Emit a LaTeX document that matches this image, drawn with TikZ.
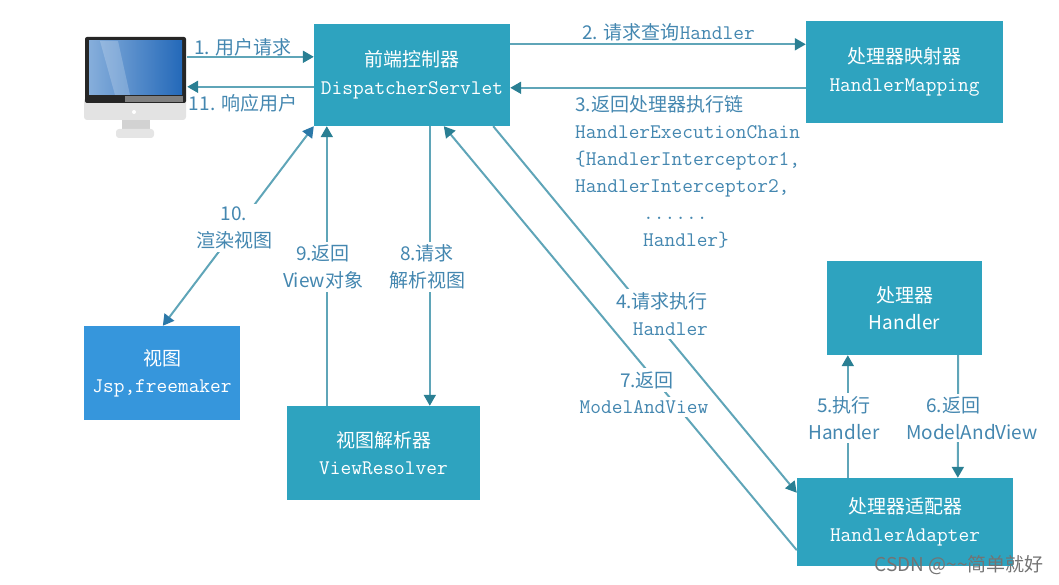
\documentclass[tikz,border=0pt]{standalone}
\usepackage{fontspec}
\setmainfont{Noto Sans CJK SC}
\usetikzlibrary{arrows.meta}
\definecolor{boxteal}{HTML}{2EA3BF}
\definecolor{viewblue}{HTML}{3696DC}
\definecolor{flowline}{HTML}{5FA5B8}
\definecolor{flowtip}{HTML}{2A7F93}
\definecolor{bothtip}{HTML}{2B78A8}
\definecolor{labelblue}{HTML}{4487B0}
\definecolor{screenleft}{HTML}{86AEDB}
\definecolor{screenright}{HTML}{2469B9}
\tikzset{
    box/.style={fill=boxteal, text=white, inner sep=0pt, align=center, font=\fontsize{19}{27}\selectfont},
    flow/.style={draw=flowline, line width=2pt, -{Triangle[length=11pt, width=12pt, color=flowtip]}},
    flowboth/.style={draw=flowline, line width=2pt, {Triangle[length=11pt, width=12pt, color=bothtip]}-{Triangle[length=11pt, width=12pt, color=bothtip]}},
    lbl/.style={text=labelblue, inner sep=0pt, font=\fontsize{19}{27}\selectfont},
    lblcut/.style={lbl, fill=white, inner xsep=3pt, inner ysep=3pt, align=center}
}
\newcommand{\nm}[1]{{\fontsize{20.8}{27}\selectfont\ttfamily #1}}
\begin{document}
\begin{tikzpicture}[x=1pt, y=-1pt]
    \useasboundingbox (0, 0) rectangle (1059, 585);

    % Monitor
    \node (monitor) at (136, 87) [minimum width=102pt, minimum height=102pt, inner sep=0pt] {};
    \fill[gray!22, rounded corners=3pt] (84, 98) rectangle (186, 120);
    \fill[gray!35] (122, 120) rectangle (150, 132);
    \fill[gray!20, rounded corners=3pt] (116, 129) rectangle (154, 138);
    \fill[black!85, rounded corners=2pt] (85, 37) rectangle (186, 103);
    \fill[black!50] (125, 96) rectangle (183, 102);
    \shade[left color=screenleft, right color=screenright] (89, 41) rectangle (182, 95);
    \fill[white, opacity=0.2] (100, 41) -- (118, 41) -- (130, 95) -- (115, 95) -- cycle;
    \fill[white] (134, 112) circle (2);

    % Blocchi
    \node (ctrl) at (412, 75) [box, minimum width=196pt, minimum height=102pt] {前端控制器\\[1pt]\nm{DispatcherServlet}};
    \node (mapping) at (904.5, 72) [box, minimum width=197pt, minimum height=102pt] {处理器映射器\\[1pt]\nm{HandlerMapping}};
    \node (handler) at (904.5, 308) [box, minimum width=155pt, minimum height=94pt] {处理器\\Handler};
    \node (adapter) at (905, 522) [box, minimum width=216pt, minimum height=88pt] {处理器适配器\\[1pt]\nm{HandlerAdapter}};
    \node (view) at (162, 373) [box, fill=viewblue, minimum width=156pt, minimum height=94pt] {视图\\\nm{Jsp,freemaker}};
    \node (resolver) at (383.5, 453) [box, minimum width=193pt, minimum height=94pt] {视图解析器\\\nm{ViewResolver}};

    % Frecce
    \draw[flow] ([yshift=-21pt]monitor.north east) -- ([yshift=-33pt]ctrl.north west);
    \draw[flow] ([yshift=-63pt]ctrl.north west) -- ([yshift=-51pt]monitor.north east);
    \draw[flow] ([yshift=-20.5pt]ctrl.north east) -- ([yshift=-23.5pt]mapping.north west);
    \draw[flow] ([yshift=-67pt]mapping.north west) -- ([yshift=-64pt]ctrl.north east);
    \draw[flow] ([xshift=-17pt]ctrl.south east) -- ([yshift=-15pt]adapter.north west);
    \draw[flow] ([xshift=51pt]adapter.north west) -- ([xshift=21pt]handler.south west);
    \draw[flow] ([xshift=-24pt]handler.south east) -- ([xshift=161pt]adapter.north west);
    \draw[flow] ([xshift=116pt]ctrl.south west) -- ([xshift=143pt]resolver.north west);
    \draw[flow] ([xshift=40pt]resolver.north west) -- ([xshift=13pt]ctrl.south west);
    \draw[flowboth] ([xshift=79pt]view.north west) -- (ctrl.south west);

    % Etichette
    \node (lbl1) at (243, 47) [lbl] {1. 用户请求};
    \node (lbl11) at (243, 103) [lbl] {11. 响应用户};
    \node (lbl2) at (668.5, 32) [lbl] {2. 请求查询\nm{Handler}};
    \node (lbl3) at (575, 95.5) [lbl, anchor=north west, align=left] {3.返回处理器执行链\\
        \nm{HandlerExecutionChain}\\
        \nm{\{HandlerInterceptor1,}\\
        \nm{HandlerInterceptor2,}\\
        \nm{\hspace*{68pt}......}\\
        \nm{\hspace*{68pt}Handler\}}};
    \node (lbl4) at (662, 314) [lblcut, align=right] {4.请求执行\\\nm{Handler}};
    \node (lbl5) at (844, 418) [lblcut] {5.执行\\Handler};
    \node (lbl6) at (972, 418) [lblcut, align=left] {\hspace*{20pt}6.返回\\ModelAndView};
    \node (lbl10) at (234, 228) [lblcut] {10.\\渲染视图};
    \node (lbl9) at (323, 267) [lblcut] {9.返回\\View对象};
    \node (lbl8) at (427, 267) [lblcut] {8.请求\\解析视图};

    % Ritorno 7, sopra il riquadro di 4
    \draw[flow] ([yshift=16pt]adapter.south west) -- ([xshift=130pt]ctrl.south west);
    \node (lbl7) at (647, 380) [lblcut] {7.返回};
    \node (lbl7b) at (644, 407) [lblcut] {\nm{ModelAndView}};

    % Filigrana
    \node (mark) at (959, 565) [text=black!55, inner sep=0pt, font=\fontsize{19}{20}\selectfont] {CSDN @\string~\string~简单就好};
\end{tikzpicture}
\end{document}
